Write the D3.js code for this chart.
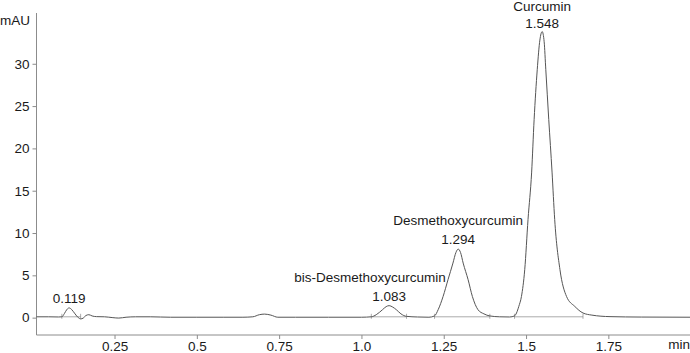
<!DOCTYPE html>
<html>
<head>
<meta charset="utf-8">
<script src="https://cdn.jsdelivr.net/npm/d3@7"></script>
<style>
  body { margin: 0; background: #fff; }
  svg { display: block; }
  text { font-family: "Liberation Sans", Arial, sans-serif; font-size: 13.5px; fill: #1a1a1a; }
</style>
</head>
<body>
<svg id="chart" width="690" height="353"></svg>
<script>
// chromatogram trace (time in min, signal in mAU)
const times = [0.013, 0.05, 0.08, 0.09, 0.098, 0.105, 0.112, 0.12, 0.13, 0.14, 0.147, 0.155, 0.163, 0.172, 0.182, 0.195,
  0.22, 0.245, 0.263, 0.285, 0.314, 0.36, 0.42, 0.5, 0.58, 0.64, 0.67, 0.69, 0.706, 0.725, 0.746, 0.8, 0.9, 1.0,
  1.03, 1.045, 1.064, 1.075, 1.084, 1.095, 1.106, 1.12, 1.137, 1.17, 1.205,
  1.222, 1.233, 1.248, 1.263, 1.278, 1.287, 1.294, 1.301, 1.309, 1.324, 1.337, 1.354, 1.372, 1.39, 1.42, 1.45,
  1.465, 1.471, 1.478, 1.486, 1.496, 1.506, 1.517, 1.5245, 1.534, 1.542, 1.549, 1.555, 1.56, 1.569, 1.579, 1.587,
  1.603, 1.623, 1.648, 1.673, 1.7, 1.755, 1.85, 1.998]
const signal = [0.1, 0.1, 0.08, 0.1, 0.5, 0.95, 1.15, 0.95, 0.45, 0.0, -0.15, -0.05, 0.25, 0.35, 0.2, 0.12,
  0.1, 0.0, -0.05, 0.05, 0.1, 0.1, 0.05, 0.05, 0.05, 0.05, 0.1, 0.35, 0.42, 0.3, 0.05, 0.05, 0.05, 0.05,
  0.1, 0.35, 0.94, 1.3, 1.42, 1.25, 0.94, 0.45, 0.15, 0.08, 0.05,
  0.2, 0.94, 2.5, 4.49, 6.45, 7.7, 8.1, 7.7, 6.45, 4.49, 2.5, 0.94, 0.45, 0.2, 0.1, 0.08,
  0.2, 0.55, 1.33, 2.5, 5.67, 11.6, 17.2, 23.4, 29.3, 32.8, 33.8, 32.6, 29.3, 23.4, 17.2, 11.6,
  5.67, 2.5, 1.33, 0.55, 0.3, 0.12, 0.07, 0.05]

// labelled peaks
const peakNames = ["", "bis-Desmethoxycurcumin", "Desmethoxycurcumin", "Curcumin"]
const peakTimes = ["0.119", "1.083", "1.294", "1.548"]
const peakApex = [0.112, 1.084, 1.294, 1.549]

// integration baselines [start, end]
const integStart = [0.09, 1.03, 1.222, 1.465]
const integEnd = [0.147, 1.137, 1.39, 1.673]
const integLevel = 0.1

const xTicks = [0.25, 0.5, 0.75, 1.0, 1.25, 1.5, 1.75]
const xTickLabels = ["0.25", "0.5", "0.75", "1.0", "1.25", "1.5", "1.75"]
const yTicks = [0, 5, 10, 15, 20, 25, 30]

const svg = d3.select("#chart")
const x = d3.scaleLinear().domain([0.013, 1.998]).range([36.5, 690])
const y = d3.scaleLinear().domain([-2.05, 36]).range([335, 13])
const axisColor = "#8c8c8c"

// axes
const yAxis = svg.append("g").attr("transform", "translate(36.5,0)")
  .call(d3.axisLeft(y).tickValues(yTicks).tickSize(4).tickPadding(3).tickSizeOuter(0))
const xAxis = svg.append("g").attr("transform", "translate(0,335)")
  .call(d3.axisBottom(x).tickValues(xTicks).tickFormat((d, i) => xTickLabels[i]).tickSize(4).tickPadding(2).tickSizeOuter(0))
for (const ax of [xAxis, yAxis]) {
  ax.select(".domain").attr("stroke", axisColor)
  ax.selectAll(".tick line").attr("stroke", axisColor)
  ax.selectAll(".tick text").attr("font-family", null).attr("font-size", null).attr("fill", "#1a1a1a")
}
yAxis.select(".domain").attr("d", `M0,${y.range()[1]}V335`)
xAxis.select(".domain").attr("d", "M36.5,0H690")

svg.append("text").attr("x", 0).attr("y", 25).text("mAU")
svg.append("text").attr("x", 690).attr("y", 349).attr("text-anchor", "end").text("min")

// integration baselines and markers
const lineData = times.map((t, i) => [t, signal[i]])
const at = t => d3.scaleLinear().domain(times).range(signal)(t)
integStart.forEach((s, i) => {
  const e = integEnd[i]
  svg.append("line").attr("x1", x(s)).attr("x2", x(e))
    .attr("y1", y(integLevel)).attr("y2", y(integLevel))
    .attr("stroke", "#888").attr("stroke-width", 0.7)
  for (const t of [s, e]) {
    svg.append("line").attr("x1", x(t)).attr("x2", x(t))
      .attr("y1", y(integLevel) - 3).attr("y2", y(integLevel) + 2)
      .attr("stroke", "#888").attr("stroke-width", 0.7)
  }
})

// trace
svg.append("path").datum(lineData)
  .attr("fill", "none").attr("stroke", "#555").attr("stroke-width", 1)
  .attr("d", d3.line().x(d => x(d[0])).y(d => y(d[1])).curve(d3.curveMonotoneX))

// peak labels
const nameShift = [0, -19, 0, 0]
peakApex.forEach((t, i) => {
  const ax = x(t), ay = y(at(t))
  const numY = Math.max(ay - 5, 28)
  svg.append("text").attr("x", ax).attr("y", numY).attr("text-anchor", "middle").text(peakTimes[i])
  if (peakNames[i])
    svg.append("text").attr("x", ax + nameShift[i]).attr("y", Math.max(numY - 19, 11))
      .attr("text-anchor", "middle").text(peakNames[i])
})
</script>
</body>
</html>
